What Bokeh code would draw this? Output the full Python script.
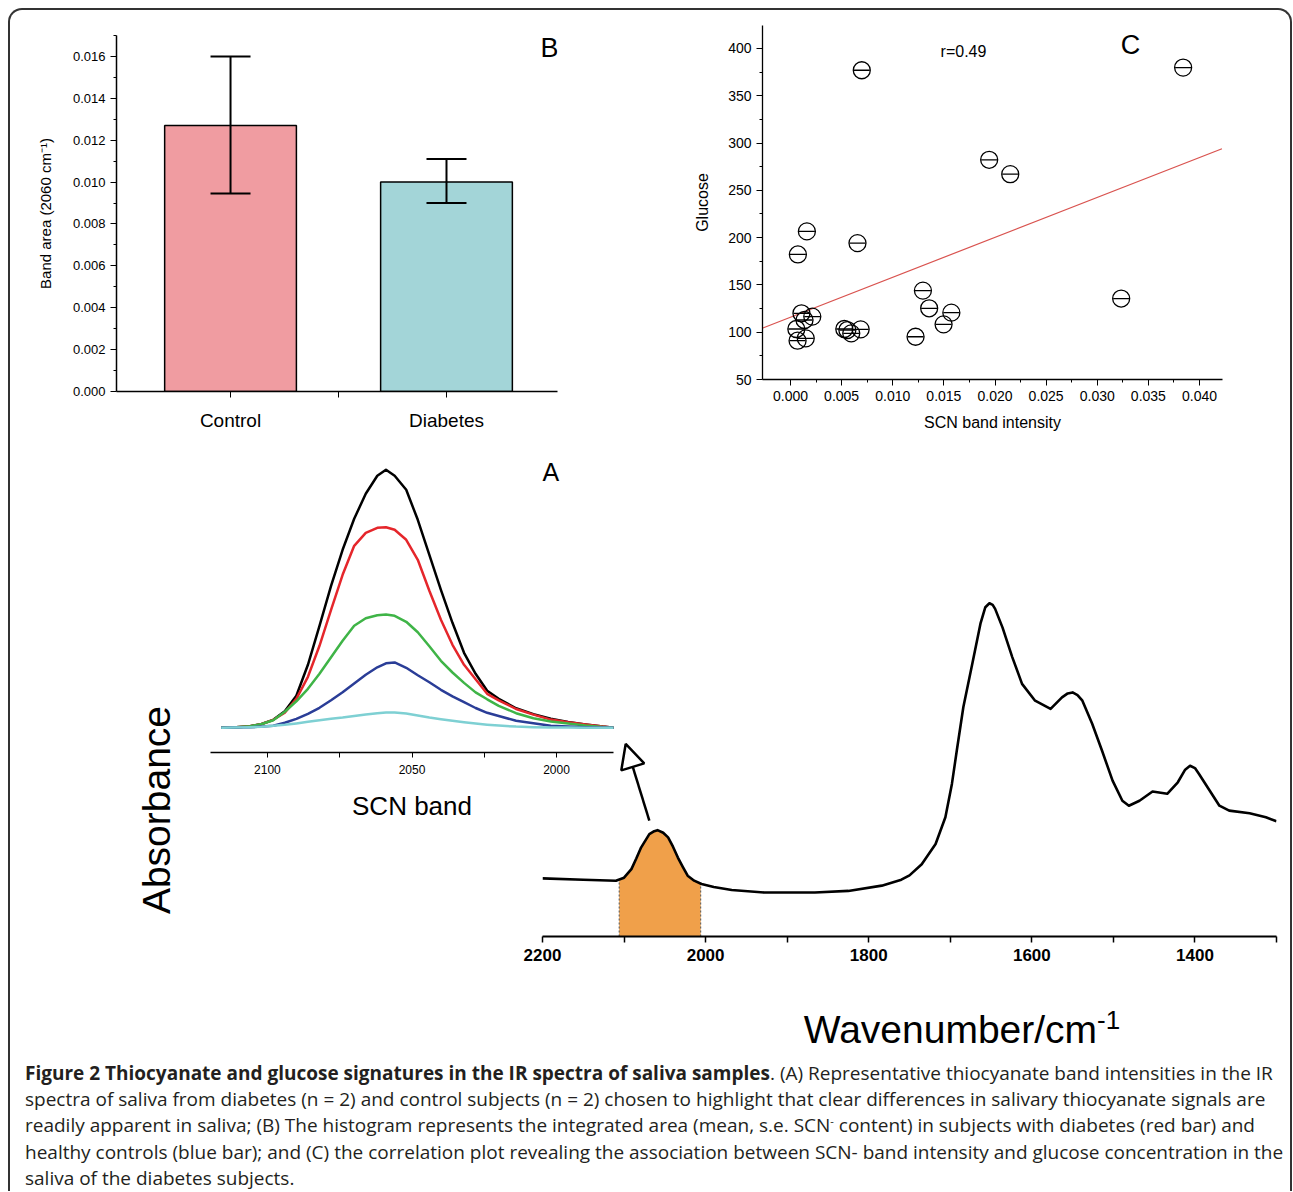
from bokeh.plotting import figure
from bokeh.models import (ColumnDataSource, Whisker, TeeHead, FixedTicker,
                          NumeralTickFormatter, Label, Arrow, NormalHead,
                          GridBox, Div, Range1d, Column)
from bokeh.embed import file_html
from bokeh.resources import INLINE

FONT = "Liberation Sans"

# ---------------- Panel B data ----------------
groups = ["Control", "Diabetes"]
group_pos = [1, 2]
band_area = [0.0127, 0.0100]
err_upper = [0.0160, 0.0111]
err_lower = [0.00945, 0.0090]
bar_colors = ["#F09CA1", "#A3D5D8"]
b_yticks = [0.000, 0.002, 0.004, 0.006, 0.008, 0.010, 0.012, 0.014, 0.016]

# ---------------- Panel C data ----------------
scn = [0.00697, 0.0384, 0.01943, 0.02149, 0.0016, 0.00655, 0.00072, 0.01295,
       0.03234, 0.01356, 0.01573, 0.01497, 0.00107, 0.00137, 0.00213, 0.00057,
       0.00069, 0.00149, 0.00526, 0.00556, 0.00594, 0.00686, 0.01223]
glucose = [377.0, 379.8, 282.3, 267.1, 206.6, 194.2, 182.2, 144.0,
           135.6, 125.3, 120.7, 108.3, 120.0, 112.9, 116.5, 103.4,
           91.0, 93.5, 103.4, 102.3, 98.8, 103.0, 95.2]
reg_x = [-0.0027, 0.0422]
reg_y = [104.5, 294.0]
c_xticks = [0.000, 0.005, 0.010, 0.015, 0.020, 0.025, 0.030, 0.035, 0.040]
c_yticks = [50, 100, 150, 200, 250, 300, 350, 400]

# ---------------- Panel A inset data ----------------
inset_wn = [2116, 2112, 2106, 2102, 2098, 2094, 2090, 2086, 2082, 2078,
            2074, 2070, 2066, 2062, 2059, 2056, 2052, 2048, 2044, 2040,
            2036, 2032, 2028, 2024, 2020, 2014, 2008, 2002, 1996, 1990,
            1984, 1980]
inset_black = [0, 0.0003, 0.0015, 0.0038, 0.008, 0.0165, 0.032, 0.063, 0.102, 0.142,
               0.178, 0.209, 0.234, 0.252, 0.258, 0.252, 0.238, 0.208, 0.173, 0.138,
               0.105, 0.075, 0.054, 0.037, 0.029, 0.0195, 0.0137, 0.009, 0.0058, 0.0034,
               0.0012, 0]
inset_red = [0, 0.0003, 0.0015, 0.0038, 0.008, 0.015, 0.029, 0.051, 0.082, 0.118,
             0.153, 0.182, 0.195, 0.200, 0.2006, 0.198, 0.188, 0.168, 0.137, 0.108,
             0.083, 0.063, 0.0485, 0.034, 0.0275, 0.0188, 0.0132, 0.0082, 0.0055, 0.0032,
             0.0012, 0]
inset_green = [0, 0.0003, 0.0015, 0.0038, 0.0075, 0.016, 0.0265, 0.039, 0.054, 0.0706,
               0.087, 0.102, 0.1095, 0.1125, 0.1133, 0.112, 0.106, 0.0955, 0.0815, 0.067,
               0.0553, 0.0449, 0.0354, 0.0285, 0.022, 0.0146, 0.0095, 0.0063, 0.0042, 0.0022,
               0.0008, 0]
inset_blue = [0, 0.0002, 0.0006, 0.0012, 0.0021, 0.005, 0.0089, 0.014, 0.020, 0.0276,
              0.0356, 0.0444, 0.053, 0.0605, 0.0645, 0.0654, 0.060, 0.0525, 0.0455, 0.038,
              0.0315, 0.0256, 0.0198, 0.015, 0.0118, 0.007, 0.0045, 0.0021, 0.0012, 0.0006,
              0.0002, 0]
inset_cyan = [0, 0.0002, 0.0006, 0.0011, 0.002, 0.003, 0.0044, 0.006, 0.0076, 0.009,
              0.0102, 0.0118, 0.0134, 0.0146, 0.0152, 0.0153, 0.0143, 0.0124, 0.0103, 0.0086,
              0.007, 0.0055, 0.0042, 0.0031, 0.0022, 0.0012, 0.0006, 0.0003, 0.0002, 0.0001,
              0, 0]
inset_colors = ["#000000", "#E5262B", "#3FB447", "#2A3D97", "#7ED0D3"]
inset_ticks = [2100, 2050, 2000]

# ---------------- Panel A main spectrum data ----------------
main_wn = [2200, 2150, 2110, 2100, 2091, 2085, 2079, 2069, 2063, 2059,
           2052, 2046, 2040, 2034, 2028, 2022, 2014, 2005, 1990, 1968,
           1928, 1866, 1825, 1784, 1760, 1750, 1735, 1718, 1706, 1698,
           1692, 1684, 1673, 1663, 1657, 1652, 1648, 1645, 1636, 1624, 1612,
           1596, 1577, 1563, 1556, 1550, 1544, 1538, 1526, 1514, 1501, 1489, 1481,
           1468, 1452, 1444, 1434, 1421, 1412, 1406, 1400, 1395, 1382, 1370, 1358,
           1333, 1313, 1300]
main_abs = [0.176, 0.172, 0.169, 0.178, 0.204, 0.236, 0.270, 0.310, 0.319, 0.322,
            0.314, 0.300, 0.272, 0.239, 0.211, 0.184, 0.169, 0.159, 0.150, 0.141,
            0.133, 0.133, 0.138, 0.154, 0.172, 0.185, 0.219, 0.280, 0.361, 0.462,
            0.563, 0.694, 0.826, 0.947, 0.997, 1.009, 1.004, 0.992, 0.936, 0.846, 0.765,
            0.714, 0.689, 0.724, 0.736, 0.739, 0.731, 0.714, 0.644, 0.563, 0.472, 0.411, 0.396,
            0.411, 0.439, 0.436, 0.432, 0.467, 0.505, 0.517, 0.510, 0.492, 0.442, 0.396, 0.381,
            0.373, 0.361, 0.349]
fill_wn = [2106, 2100, 2091, 2085, 2079, 2069, 2063, 2059, 2052, 2046,
           2040, 2034, 2028, 2022, 2014, 2006]
fill_abs = [0.170, 0.178, 0.204, 0.236, 0.270, 0.310, 0.319, 0.322, 0.314, 0.300,
            0.272, 0.239, 0.211, 0.184, 0.169, 0.160]
main_ticks = [2200, 2000, 1800, 1600, 1400]
main_minor = [2100, 1900, 1700, 1500, 1300]

SUP = "<span style='font-size:11px; line-height:0; position:relative; top:-7px'>-</span>"
caption_html = (
    "<b>Figure 2 Thiocyanate and glucose signatures in the IR spectra of saliva samples</b>. "
    "(A) Representative thiocyanate band intensities in the IR<br>"
    "spectra of saliva from diabetes (n = 2) and control subjects (n = 2) chosen to highlight "
    "that clear differences in salivary thiocyanate signals are<br>"
    "readily apparent in saliva; (B) The histogram represents the integrated area (mean, s.e. "
    "SCN" + SUP + " content) in subjects with diabetes (red bar) and<br>"
    "healthy controls (blue bar); and (C) the correlation plot revealing the association between "
    "SCN- band intensity and glucose concentration in the<br>"
    "saliva of the diabetes subjects."
)

OX, OY = 10, 10  # content origin of the bordered box on the page


def base_fig(**kw):
    p = figure(output_backend="svg", toolbar_location=None, **kw)
    p.background_fill_color = None
    p.border_fill_color = None
    p.outline_line_color = None
    p.grid.visible = False
    return p


def place(fig, x, y):
    return Column(children=[fig], margin=(y - OY, 0, 0, x - OX))


def style_axis(ax, tick_size, label_size=None):
    ax.axis_line_color = "black"
    ax.major_tick_line_color = "black"
    ax.minor_tick_line_color = "black"
    ax.major_label_text_font = FONT
    ax.major_label_text_font_size = f"{tick_size}px"
    ax.major_label_text_color = "black"
    ax.axis_label_text_font = FONT
    ax.axis_label_text_font_style = "normal"
    ax.axis_label_text_color = "black"
    if label_size:
        ax.axis_label_text_font_size = f"{label_size}px"


# ================= Panel B =================
pB = base_fig(width=582, height=422, x_range=Range1d(0.472, 2.514), y_range=Range1d(0, 0.017),
              min_border_left=98, min_border_right=43, min_border_top=17, min_border_bottom=49)
srcB = ColumnDataSource(dict(x=group_pos, top=band_area, upper=err_upper, lower=err_lower,
                             color=bar_colors))
pB.vbar(x="x", top="top", width=0.61, fill_color="color", line_color="black",
        line_width=1.5, source=srcB)
pB.add_layout(Whisker(base="x", upper="upper", lower="lower", source=srcB, line_width=2,
                      line_color="black", level="annotation",
                      upper_head=TeeHead(size=40, line_width=2, line_color="black"),
                      lower_head=TeeHead(size=40, line_width=2, line_color="black")))
pB.yaxis.ticker = FixedTicker(ticks=b_yticks,
                              minor_ticks=[t + 0.001 for t in b_yticks])
pB.yaxis.formatter = NumeralTickFormatter(format="0.000")
pB.xaxis.ticker = FixedTicker(ticks=group_pos, minor_ticks=[1.5])
pB.xaxis.major_label_overrides = {1: groups[0], 2: groups[1]}
style_axis(pB.yaxis[0], 13, 15)
style_axis(pB.xaxis[0], 19)
pB.yaxis.axis_label = "Band area (2060 cm\u207b\u00b9)"
pB.yaxis.axis_label_standoff = 16
pB.yaxis.major_tick_out = 6
pB.yaxis.minor_tick_out = 3
pB.yaxis.major_tick_in = 0
pB.yaxis.minor_tick_in = 0
pB.xaxis.major_tick_out = 6
pB.xaxis.minor_tick_out = 6
pB.xaxis.major_tick_in = 0
pB.xaxis.minor_tick_in = 0
pB.xaxis.major_label_standoff = 12
pB.axis.axis_line_width = 1.5
pB.add_layout(Label(x=2.477, y=0.01638, text="B", text_font=FONT, text_font_size="27px",
                    text_align="center", text_baseline="middle", text_color="black"))

# ================= Panel C =================
pC = base_fig(width=590, height=425, x_range=Range1d(-0.00274, 0.04225),
              y_range=Range1d(50, 424.3),
              min_border_left=82, min_border_right=48, min_border_top=10, min_border_bottom=61)
pC.line(reg_x, reg_y, line_color="#D9534F", line_width=1.2)
pC.scatter(scn, glucose, marker="circle", size=17, fill_color=None, line_color="black",
           line_width=1.3)
pC.scatter(scn, glucose, marker="dash", size=16, line_color="black", line_width=1.3)
pC.xaxis.ticker = FixedTicker(ticks=c_xticks, minor_ticks=[t + 0.0025 for t in c_xticks])
pC.xaxis.formatter = NumeralTickFormatter(format="0.000")
pC.yaxis.ticker = FixedTicker(ticks=c_yticks, minor_ticks=[t + 25 for t in c_yticks])
style_axis(pC.xaxis[0], 14, 16)
style_axis(pC.yaxis[0], 14, 16)
pC.xaxis.axis_label = "SCN band intensity"
pC.yaxis.axis_label = "Glucose"
pC.xaxis.axis_label_standoff = 10
pC.yaxis.axis_label_standoff = 14
for ax in (pC.xaxis[0], pC.yaxis[0]):
    ax.major_tick_out = 6
    ax.minor_tick_out = 3
    ax.major_tick_in = 0
    ax.minor_tick_in = 0
    ax.axis_line_width = 1.3
pC.add_layout(Label(x=0.03325, y=404.2, text="C", text_font=FONT, text_font_size="27px",
                    text_align="center", text_baseline="middle", text_color="black"))
pC.add_layout(Label(x=0.01692, y=396.8, text="r=0.49", text_font=FONT, text_font_size="16px",
                    text_align="center", text_baseline="middle", text_color="black"))

# ================= Panel A main spectrum =================
pM = base_fig(width=1160, height=485, x_range=Range1d(2200, 1300), y_range=Range1d(0, 1.0476),
              min_border_left=412, min_border_right=14, min_border_top=15, min_border_bottom=124)
pM.varea(x=fill_wn, y1=[0] * len(fill_wn), y2=fill_abs, fill_color="#F0A04A")
pM.segment(x0=[fill_wn[0], fill_wn[-1]], y0=[0, 0], x1=[fill_wn[0], fill_wn[-1]],
           y1=[fill_abs[0], fill_abs[-1]], line_color="#555555", line_width=1, line_dash="2 2")
pM.line(main_wn, main_abs, line_color="black", line_width=2.6, line_join="round")
pM.yaxis.visible = False
pM.xaxis.ticker = FixedTicker(ticks=main_ticks, minor_ticks=main_minor)
pM.xaxis.bounds = (1300, 2200)
style_axis(pM.xaxis[0], 17)
pM.xaxis.major_label_text_font_style = "bold"
pM.xaxis.axis_line_width = 2
pM.xaxis.major_tick_out = 6
pM.xaxis.minor_tick_out = 6
pM.xaxis.major_tick_in = 0
pM.xaxis.minor_tick_in = 0
pM.xaxis.major_tick_line_width = 1.5
pM.xaxis.minor_tick_line_width = 1.5
pM.xaxis.major_label_standoff = 6
pM.add_layout(Arrow(end=NormalHead(size=24, fill_color="white", line_color="black",
                                   line_width=2.5),
                    x_start=2069, y_start=0.351, x_end=2098, y_end=0.583,
                    line_width=2.5, line_color="black"))

# ================= Panel A inset =================
pI = base_fig(width=430, height=375, x_range=Range1d(2119.7, 1980.3),
              y_range=Range1d(-0.0247, 0.2673),
              min_border_left=10, min_border_right=17, min_border_top=5, min_border_bottom=78)
for vals, col in zip([inset_black, inset_red, inset_green, inset_blue, inset_cyan], inset_colors):
    pI.line(inset_wn, vals, line_color=col, line_width=2.5, line_join="round")
pI.yaxis.visible = False
pI.xaxis.ticker = FixedTicker(ticks=inset_ticks, minor_ticks=[2075, 2025])
style_axis(pI.xaxis[0], 12, 26)
pI.xaxis.axis_label = "SCN band"
pI.xaxis.axis_line_width = 1.5
pI.xaxis.major_tick_out = 5
pI.xaxis.minor_tick_out = 5
pI.xaxis.major_tick_in = 0
pI.xaxis.minor_tick_in = 0
pI.xaxis.major_label_standoff = 7
pI.xaxis.axis_label_standoff = 14
pI.add_layout(Label(x=2002, y=0.2563, text="A", text_font=FONT, text_font_size="25px",
                    text_align="center", text_baseline="middle", text_color="black"))

# ================= Big axis titles of panel A =================
absorb = Div(text="Absorbance", width=240, height=46,
             margin=(810 - 23 - OY, 0, 0, 157 - 120 - OX),
             styles={"font-family": f"'{FONT}'", "font-size": "39px", "line-height": "46px",
                     "text-align": "center", "color": "black", "white-space": "nowrap",
                     "transform": "rotate(-90deg)"})
wavenum = Div(text="Wavenumber/cm<sup style='font-size:26px; line-height:0'>-1</sup>",
              width=380, height=50, margin=(1030 - 25 - OY, 0, 0, 962 - 190 - OX),
              styles={"font-family": f"'{FONT}'", "font-size": "39px", "line-height": "50px",
                      "text-align": "center", "color": "black", "white-space": "nowrap"})

# ================= Caption =================
cap = Div(text=caption_html, width=1266, height=1190 - 1060,
          margin=(1060 - OY, 0, 0, 25 - OX),
          styles={"font-family": "'Open Sans'", "font-size": "19px", "line-height": "26.2px",
                  "color": "#231f20", "white-space": "nowrap", "overflow": "hidden"})

layout = GridBox(children=[(place(pB, 18, 18), 0, 0), (place(pC, 680, 15), 0, 0),
                           (place(pM, 130, 575), 0, 0), (place(pI, 200, 455), 0, 0),
                           (absorb, 0, 0), (wavenum, 0, 0), (cap, 0, 0)],
                 width=1284, height=1183, margin=(8, 0, 0, 8),
                 styles={"border": "2px solid #333", "border-bottom": "none",
                         "border-radius": "14px 14px 0 0", "overflow": "hidden"})

open("out.html", "w").write(file_html(layout, INLINE))
